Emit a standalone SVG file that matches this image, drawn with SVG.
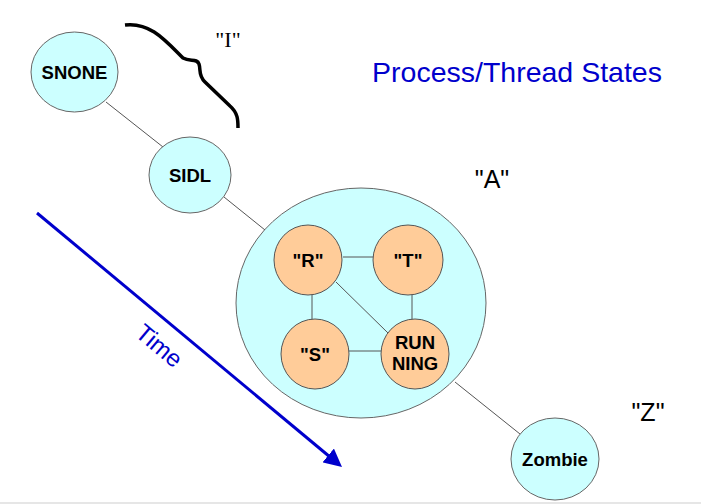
<svg xmlns="http://www.w3.org/2000/svg" width="701" height="504" viewBox="0 0 701 504">
<style>
.node{fill:#CCFFFF;stroke:#666;stroke-width:1}
.inner{fill:#FFCC99;stroke:#555;stroke-width:1}
.lbl{font-family:"Liberation Sans",Arial,sans-serif;font-weight:bold;font-size:18.5px;fill:#000;text-anchor:middle}
.conn line{stroke:#555;stroke-width:1}
.plain{font-family:"Liberation Sans",Arial,sans-serif;font-size:25px;fill:#000;text-anchor:middle}
</style>
<defs>
<marker id="ah" markerWidth="6" markerHeight="6" refX="3.4" refY="3" orient="auto" markerUnits="strokeWidth">
<path d="M0,0 L6,3 L0,6 z" fill="#0000CC"/>
</marker>
</defs>
<rect x="0" y="0" width="701" height="504" fill="#fff"/>
<rect x="0" y="502" width="701" height="2" fill="#e6e6e6"/>
<g id="process">
<ellipse class="node" cx="361" cy="303" rx="125" ry="115"/>
</g>
<g id="connectors" class="conn">
<line x1="106" y1="102" x2="163" y2="147"/>
<line x1="224" y1="197" x2="265" y2="230"/>
<line x1="455" y1="382" x2="520" y2="434"/>
<line x1="343" y1="257" x2="373" y2="257"/>
<line x1="312" y1="294" x2="312" y2="320"/>
<line x1="412" y1="294" x2="412" y2="320"/>
<line x1="349" y1="351" x2="381" y2="351"/>
<line x1="336" y1="282" x2="388" y2="333"/>
</g>
<g id="snone">
<ellipse class="node" cx="74.5" cy="72" rx="43.5" ry="40"/>
<text class="lbl" x="74.5" y="79">SNONE</text>
</g>
<g id="sidl">
<ellipse class="node" cx="190" cy="175" rx="41" ry="38"/>
<text class="lbl" x="190" y="182">SIDL</text>
</g>
<g id="R">
<ellipse class="inner" cx="308" cy="260" rx="34" ry="35"/>
<text class="lbl" x="308" y="267">"R"</text>
</g>
<g id="T">
<ellipse class="inner" cx="408" cy="260" rx="35" ry="35"/>
<text class="lbl" x="408" y="267">"T"</text>
</g>
<g id="S">
<ellipse class="inner" cx="315" cy="354" rx="34" ry="35"/>
<text class="lbl" x="315" y="361">"S"</text>
</g>
<g id="running">
<ellipse class="inner" cx="415" cy="354" rx="34" ry="35"/>
<text class="lbl" x="415" y="349">RUN</text>
<text class="lbl" x="415" y="370">NING</text>
</g>
<g id="zombie">
<ellipse class="node" cx="555" cy="459" rx="44" ry="41"/>
<text class="lbl" x="555" y="466">Zombie</text>
</g>
<path d="M125,25 C150,22 165,40 183,58 C190,62 197,58 199,64 C201,70 198,75 205,82 L230,106 C238,113 238,120 238,128" fill="none" stroke="#000" stroke-width="3.5"/>
<text x="228" y="47" font-family="Liberation Serif,serif" font-size="22" text-anchor="middle" fill="#000">"I"</text>
<text x="517" y="82" font-family="Liberation Sans,Arial,sans-serif" font-size="28.5" text-anchor="middle" fill="#0000CC">Process/Thread States</text>
<text class="plain" x="492" y="188">"A"</text>
<text class="plain" x="648" y="421">"Z"</text>
<line x1="37" y1="213" x2="336" y2="462" stroke="#0000CC" stroke-width="3" marker-end="url(#ah)"/>
<text x="0" y="0" transform="translate(154,352) rotate(40)" font-family="Liberation Sans,Arial,sans-serif" font-size="24" text-anchor="middle" fill="#0000CC">Time</text>
</svg>
